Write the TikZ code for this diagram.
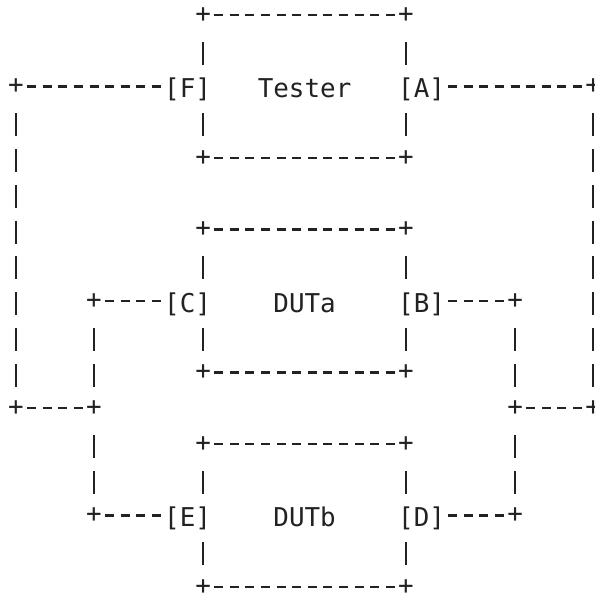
\documentclass[tikz,border=0pt]{standalone}
\usepackage{fontspec}
\setmonofont{DejaVu Sans Mono}
\usetikzlibrary{backgrounds}
\definecolor{ink}{HTML}{222222}
\tikzset{
	glyph/.style={inner sep=0pt, text=ink, font=\ttfamily\fontsize{25.9pt}{30pt}\selectfont},
	corner/.style={glyph},
	tag/.style={glyph, fill=white, text height=26pt, text depth=4pt, inner ysep=2pt},
	hwire/.style={draw=ink, line width=2.2pt, dash pattern=on 9pt off 6.6pt, shorten <=11.1pt, shorten >=11.1pt},
	vwire/.style={draw=ink, line width=2.2pt, dash pattern=on 23pt off 12.75pt, shorten <=26.75pt, shorten >=21.75pt}
}

\begin{document}
\begin{tikzpicture}[x=15.6pt, y=-35.75pt]
		%%%%% START %%%%%
		\useasboundingbox (-1.026, -0.42) rectangle (37.115, 16.252);
		
		% tester box
		\node[corner] (tNW) at (12, 0) {+};
		\node[corner] (tNE) at (25, 0) {+};
		\node[corner] (tSW) at (12, 4) {+};
		\node[corner] (tSE) at (25, 4) {+};
		\node[tag] (tester) at (18.5, 2) {Tester};
		\node[tag] (portF) at (11, 2) {[F]};
		\node[tag] (portA) at (26, 2) {[A]};
		
		% DUTa box
		\node[corner] (aNW) at (12, 6) {+};
		\node[corner] (aNE) at (25, 6) {+};
		\node[corner] (aSW) at (12, 10) {+};
		\node[corner] (aSE) at (25, 10) {+};
		\node[tag] (duta) at (18.5, 8) {DUTa};
		\node[tag] (portC) at (11, 8) {[C]};
		\node[tag] (portB) at (26, 8) {[B]};
		
		% DUTb box
		\node[corner] (bNW) at (12, 12) {+};
		\node[corner] (bNE) at (25, 12) {+};
		\node[corner] (bSW) at (12, 16) {+};
		\node[corner] (bSE) at (25, 16) {+};
		\node[tag] (dutb) at (18.5, 14) {DUTb};
		\node[tag] (portE) at (11, 14) {[E]};
		\node[tag] (portD) at (26, 14) {[D]};
		
		% bends of the cabling
		\node[corner] (fOut) at (0, 2) {+};
		\node[corner] (aOut) at (37, 2) {+};
		\node[corner] (fDown) at (0, 11) {+};
		\node[corner] (aDown) at (37, 11) {+};
		\node[corner] (cOut) at (5, 8) {+};
		\node[corner] (cMid) at (5, 11) {+};
		\node[corner] (eOut) at (5, 14) {+};
		\node[corner] (bOut) at (32, 8) {+};
		\node[corner] (bMid) at (32, 11) {+};
		\node[corner] (dOut) at (32, 14) {+};
		
		\begin{pgfonlayer}{background}
		% box outlines
		\draw[hwire] (tNW.center) -- (tNE.center);
		\draw[hwire] (tSW.center) -- (tSE.center);
		\draw[vwire] (tNW.center) -- (tSW.center);
		\draw[vwire] (tNE.center) -- (tSE.center);
		
		\draw[hwire] (aNW.center) -- (aNE.center);
		\draw[hwire] (aSW.center) -- (aSE.center);
		\draw[vwire] (aNW.center) -- (aSW.center);
		\draw[vwire] (aNE.center) -- (aSE.center);
		
		\draw[hwire] (bNW.center) -- (bNE.center);
		\draw[hwire] (bSW.center) -- (bSE.center);
		\draw[vwire] (bNW.center) -- (bSW.center);
		\draw[vwire] (bNE.center) -- (bSE.center);
		
		% F -> E and A -> D, through the DUTs
		\draw[hwire] (fOut.center) -- (portF.center);
		\draw[vwire] (fOut.center) -- (fDown.center);
		\draw[hwire] (fDown.center) -- (cMid.center);
		\draw[hwire] (cOut.center) -- (portC.center);
		\draw[vwire] (cOut.center) -- (cMid.center);
		\draw[vwire] (cMid.center) -- (eOut.center);
		\draw[hwire] (eOut.center) -- (portE.center);
		
		\draw[hwire] (portA.center) -- (aOut.center);
		\draw[vwire] (aOut.center) -- (aDown.center);
		\draw[hwire] (bMid.center) -- (aDown.center);
		\draw[hwire] (portB.center) -- (bOut.center);
		\draw[vwire] (bOut.center) -- (bMid.center);
		\draw[vwire] (bMid.center) -- (dOut.center);
		\draw[hwire] (portD.center) -- (dOut.center);
		\end{pgfonlayer}
		%%%%% END %%%%%
\end{tikzpicture}
\end{document}
